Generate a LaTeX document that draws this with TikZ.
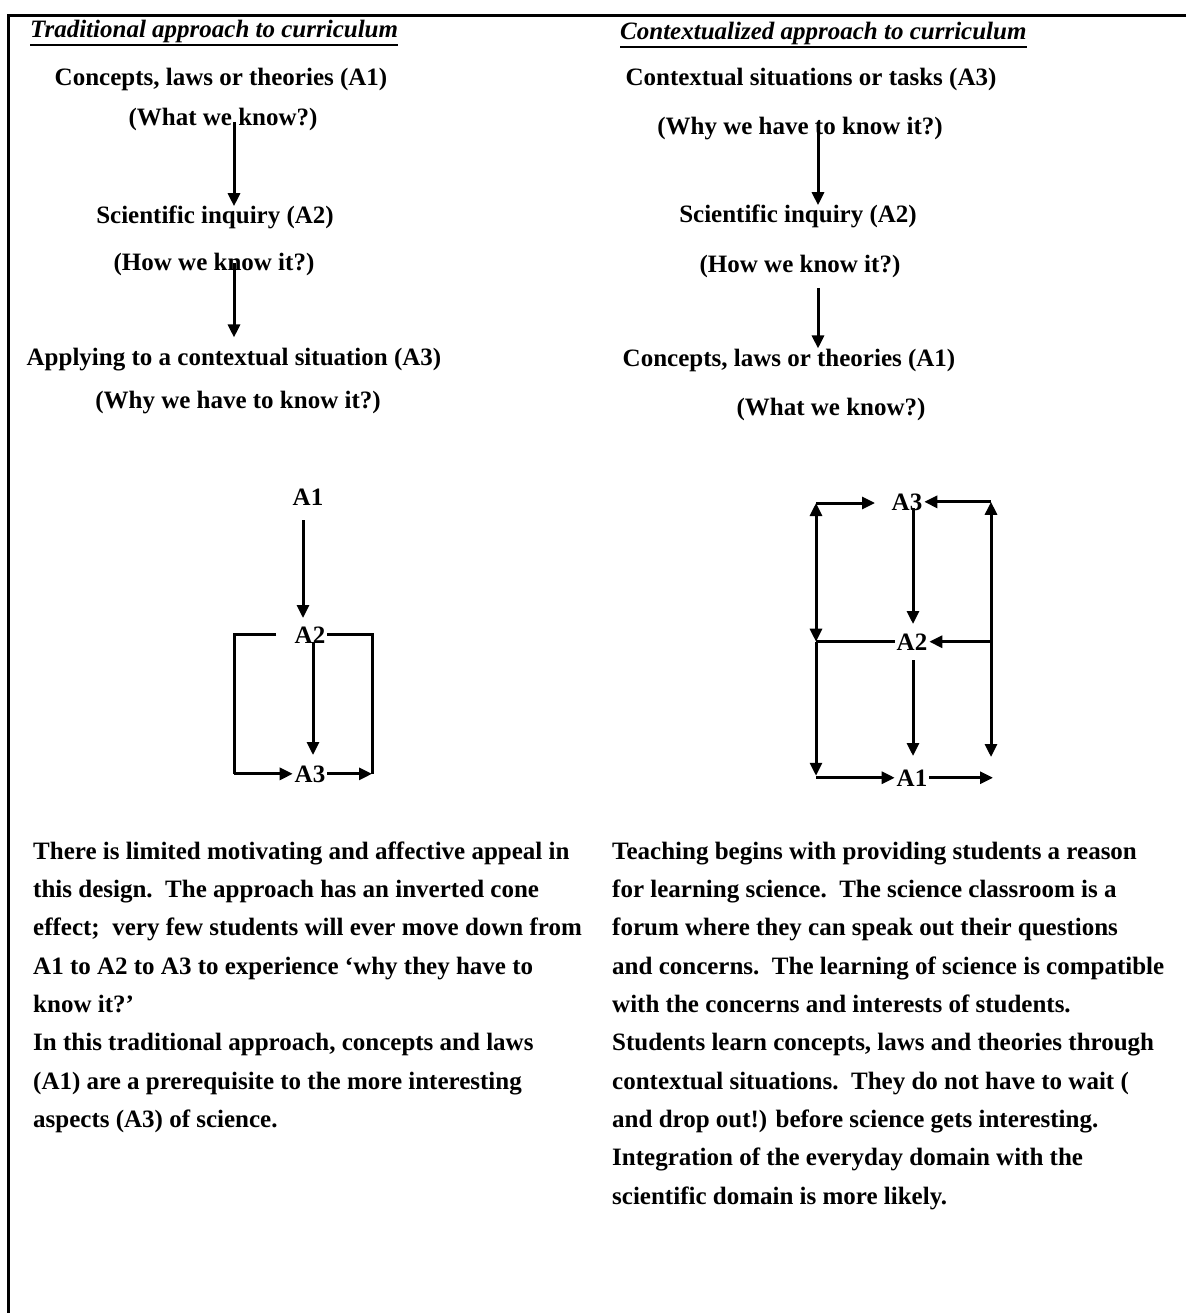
\documentclass[tikz,border=0pt]{standalone}
\usepackage{fontspec}
\setmainfont{Liberation Serif}
\usepackage{tikz}
\usetikzlibrary{arrows.meta,calc,positioning}

\begin{document}
\begin{tikzpicture}[>={Triangle[length=13pt,width=12pt]},x=1pt,y=-1pt,
    txt/.style={font=\fontsize{25}{30}\selectfont\bfseries,inner sep=0pt,anchor=base},
    head/.style={txt,font=\fontsize{25}{30}\selectfont\bfseries\itshape,anchor=base west},
    para/.style={txt,anchor=base west},
    lbl/.style={txt,outer sep=2pt},
    arr/.style={->,line width=3pt},
    brk/.style={line width=3pt}]
  \useasboundingbox (0,0) rectangle (1186,1313);
  % frame
  \draw[line width=3pt] (1186,16) -- (8,16) -- (8,1313);

  % traditional approach
  \node[head] (lhead) at (30,38) {Traditional approach to curriculum};
  \draw[line width=2.2pt] ($(lhead.base west)+(0,7)$) -- ($(lhead.base east)+(0,7)$);
  \node[txt] (lconc) at (221,86) {Concepts, laws or theories (A1)};
  \node[txt] (lwhat) at (223,126) {(What we know?)};
  \node[txt] (lsci) at (215,224) {Scientific inquiry (A2)};
  \node[txt] (lhow) at (214,271) {(How we know it?)};
  \node[txt] (lapp) at (234,365) {Applying to a contextual situation (A3)};
  \node[txt] (lwhy) at (238,408) {(Why we have to know it?)};
  \coordinate (lt1) at (234,122);
  \coordinate (lt2) at (234,263);
  \draw[arr] (lt1) -- (lt1 |- lsci.north);
  \draw[arr] (lt2) -- ($(lt2 |- lapp.north)+(0,-10)$);

  % contextualized approach
  \node[head] (rhead) at (620,40) {Contextualized approach to curriculum};
  \draw[line width=2.2pt] ($(rhead.base west)+(0,7)$) -- ($(rhead.base east)+(0,7)$);
  \node[txt] (rctx) at (811,86) {Contextual situations or tasks (A3)};
  \node[txt] (rwhy) at (800,135) {(Why we have to know it?)};
  \node[txt] (rsci) at (798,223) {Scientific inquiry (A2)};
  \node[txt] (rhow) at (800,273) {(How we know it?)};
  \node[txt] (rconc) at (789,366) {Concepts, laws or theories (A1)};
  \node[txt] (rwhat) at (831,415) {(What we know?)};
  \coordinate (rt1) at (818,122);
  \coordinate (rt2) at (818,288);
  \draw[arr] (rt1) -- (rt1 |- rsci.north);
  \draw[arr] (rt2) -- (rt2 |- rconc.north);

  % left flow diagram
  \node[lbl] (la1) at (308,505) {A1};
  \node[lbl] (la2) at (310,643) {A2};
  \node[lbl] (la3) at (310,782) {A3};
  \coordinate (lbl0) at (276,636);
  \coordinate (lbl1) at (234,636);
  \coordinate (lbr2) at (372,773);
  \draw[arr] (303,520) -- (303,618);
  \draw[arr] (313,642) -- (313,755);
  \draw[brk] (lbl0 |- la2.west) -| (lbl1 |- la3.west);
  \draw[arr] (lbl1 |- la3.west) -- (la3.west);
  \draw[brk] (la2.east) -| (lbr2 |- la3.east);
  \draw[arr] (la3.east) -- (lbr2 |- la3.east);

  % right flow diagram
  \node[lbl] (ra3) at (907,510) {A3};
  \node[lbl] (ra2) at (912,650) {A2};
  \node[lbl] (ra1) at (912,786) {A1};
  \coordinate (rl1) at (816,503);
  \coordinate (rl2) at (rl1 |- ra2.west);
  \coordinate (rl3) at (rl1 |- ra1.west);
  \coordinate (rr3) at (991,757);
  \coordinate (rr1) at (rr3 |- ra3.east);
  \coordinate (rr2) at (rr3 |- ra2.east);
  \coordinate (rr4) at (993,786);
  \draw[arr] (rl1) -- (875,503);
  \draw[line width=3pt,<->] (rl1) -- (rl2);
  \draw[arr] (rl2) -- ($(rl3)+(0,-2)$);
  \draw[arr] (rl3) -- (ra1.west);
  \draw[brk] (ra2.west) -- (rl2);
  \draw[arr] (913,508) -- (913,624);
  \draw[arr] (913,660) -- (913,756);
  \draw[line width=3pt,<->] (rr1) -- (rr3);
  \draw[arr] (rr1) -- (ra3.east);
  \draw[arr] (rr2) -- (ra2.east);
  \draw[arr] (ra1.east) -- (rr4 |- ra1.east);

  % comments
  \foreach \ln [count=\i] in {There is limited motivating and affective appeal in,
      this design.\ \ The approach has an inverted cone,
      {effect;\ \ very few students will ever move down from},
      A1 to A2 to A3 to experience ‘why they have to,
      know it?’,
      {In this traditional approach, concepts and laws},
      (A1) are a prerequisite to the more interesting,
      aspects (A3) of science.}
    \node[para] (pl\i) at (33,821+38.3*\i) {\ln};
  \foreach \ln [count=\i] in {Teaching begins with providing students a reason,
      for learning science.\ \ The science classroom is a,
      forum where they can speak out their questions,
      and concerns.\ \ The learning of science is compatible,
      with the concerns and interests of students.,
      {Students learn concepts, laws and theories through},
      contextual situations.\ \ They do not have to wait (,
      and drop out!) before science gets interesting.,
      Integration of the everyday domain with the,
      scientific domain is more likely.}
    \node[para] (pr\i) at (612,821+38.3*\i) {\ln};
\end{tikzpicture}
\end{document}
